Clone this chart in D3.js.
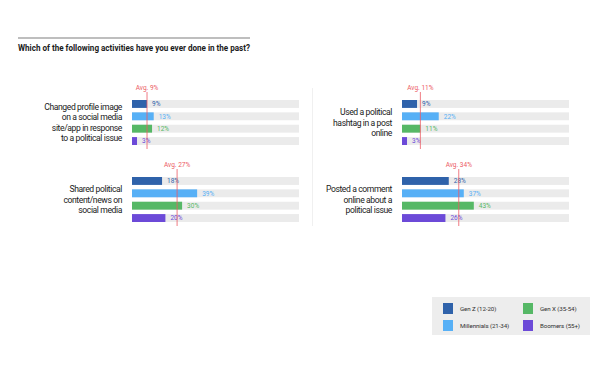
<!DOCTYPE html>
<html>
<head>
<meta charset="utf-8">
<script src="https://cdn.jsdelivr.net/npm/d3@7"></script>
<style>
  body { margin: 0; background: #fff; }
  svg text { font-family: Roboto, "Liberation Sans", Arial, sans-serif; }
</style>
</head>
<body>
<svg width="600" height="370"></svg>
<script>
// data
var generations = ["Gen Z (12-20)", "Millennials (21-34)", "Gen X (35-54)", "Boomers (55+)"];
var genColors = ["#2f62aa", "#57b0f6", "#56b866", "#6c4ad8"];

var activities = [
  ["Changed profile image", "on a social media", "site/app in response", "to a political issue"],
  ["Used a political", "hashtag in a post", "online"],
  ["Shared political", "content/news on", "social media"],
  ["Posted a comment", "online about a", "political issue"]
];
var values = [
  [9, 13, 12, 3],
  [9, 22, 11, 3],
  [18, 39, 30, 20],
  [28, 37, 43, 26]
];
var averages = [9, 11, 27, 34];

var title = "Which of the following activities have you ever done in the past?";

var svg = d3.select("svg");

// header rule + title
svg.append("line")
    .attr("x1", 18).attr("x2", 250)
    .attr("y1", 38).attr("y2", 38)
    .attr("stroke", "#a9a9a9").attr("stroke-width", 1.5);

svg.append("text")
    .attr("x", 18).attr("y", 51)
    .attr("font-size", 8.2)
    .attr("font-weight", "bold")
    .attr("fill", "#1a1a1a")
    .attr("textLength", 232)
    .attr("lengthAdjust", "spacingAndGlyphs")
    .text(title);

// faint divider between columns
svg.append("line")
    .attr("x1", 312.5).attr("x2", 312.5)
    .attr("y1", 88).attr("y2", 226)
    .attr("stroke", "#f0f0f0");

// panel origins: bar start x, top of first row
var panels = [
  {x: 132, y: 100},
  {x: 402, y: 100},
  {x: 132, y: 177},
  {x: 402, y: 177}
];

var trackW = 167;
var x = d3.scaleLinear().domain([0, 100]).range([0, trackW]);
var y = d3.scaleBand().domain(d3.range(4)).range([0, 45]).paddingInner(0.36).paddingOuter(0);

panels.forEach(function(p, i) {
  var g = svg.append("g").attr("transform", "translate(" + p.x + "," + p.y + ")");

  // grey tracks
  g.selectAll(".track")
    .data(values[i])
    .enter().append("rect")
      .attr("class", "track")
      .attr("x", 0)
      .attr("y", function(d, j) { return y(j); })
      .attr("width", x(100))
      .attr("height", y.bandwidth())
      .attr("fill", "#ebebeb");

  g.selectAll(".bar")
    .data(values[i])
    .enter().append("rect")
      .attr("class", "bar")
      .attr("x", 0)
      .attr("y", function(d, j) { return y(j); })
      .attr("width", function(d) { return x(d); })
      .attr("height", y.bandwidth())
      .attr("fill", function(d, j) { return genColors[j]; });

  g.selectAll(".val")
    .data(values[i])
    .enter().append("text")
      .attr("class", "val")
      .attr("x", function(d) { return x(d) + 5; })
      .attr("y", function(d, j) { return y(j) + y.bandwidth() / 2; })
      .attr("dy", "0.35em")
      .attr("font-size", 6.5)
      .attr("fill", function(d, j) { return genColors[j]; })
      .text(function(d) { return d + "%"; });

  // average marker
  var ax = x(averages[i]);
  g.append("line")
    .attr("x1", ax).attr("x2", ax)
    .attr("y1", -8).attr("y2", y(3) + y.bandwidth() + 4)
    .attr("stroke", "#ec5a63")
    .attr("stroke-width", 0.8);

  g.append("text")
    .attr("x", ax)
    .attr("y", -10)
    .attr("text-anchor", "middle")
    .attr("font-size", 6.5)
    .attr("fill", "#ec5a63")
    .text("Avg. " + averages[i] + "%");

  // category label, centred on the bar group
  var lines = activities[i];
  var mid = (y(0) + y(3) + y.bandwidth()) / 2;
  var lh = 10.3;
  g.append("text")
    .attr("x", -10)
    .attr("text-anchor", "end")
    .attr("font-size", 8.6)
    .attr("letter-spacing", -0.4)
    .attr("fill", "#1a1a1a")
    .selectAll("tspan")
    .data(lines)
    .enter().append("tspan")
      .attr("x", -10)
      .attr("y", function(d, k) { return mid + (k - (lines.length - 1) / 2) * lh; })
      .attr("dy", "0.35em")
      .text(function(d) { return d; });
});

// legend
var leg = svg.append("g").attr("transform", "translate(432,297)");
leg.append("rect")
    .attr("width", 158).attr("height", 38)
    .attr("fill", "#ededed");

var legPos = [[11, 6], [11, 23], [91, 6], [91, 23]];
var li = leg.selectAll(".item")
    .data(generations)
    .enter().append("g")
      .attr("class", "item")
      .attr("transform", function(d, j) { return "translate(" + legPos[j][0] + "," + legPos[j][1] + ")"; });

li.append("rect")
    .attr("width", 10).attr("height", 11)
    .attr("fill", function(d, j) { return genColors[j]; });

li.append("text")
    .attr("x", 17)
    .attr("y", 5.5)
    .attr("dy", "0.35em")
    .attr("font-size", 6.2)
    .attr("letter-spacing", -0.1)
    .attr("fill", "#333")
    .text(function(d) { return d; });
</script>
</body>
</html>
